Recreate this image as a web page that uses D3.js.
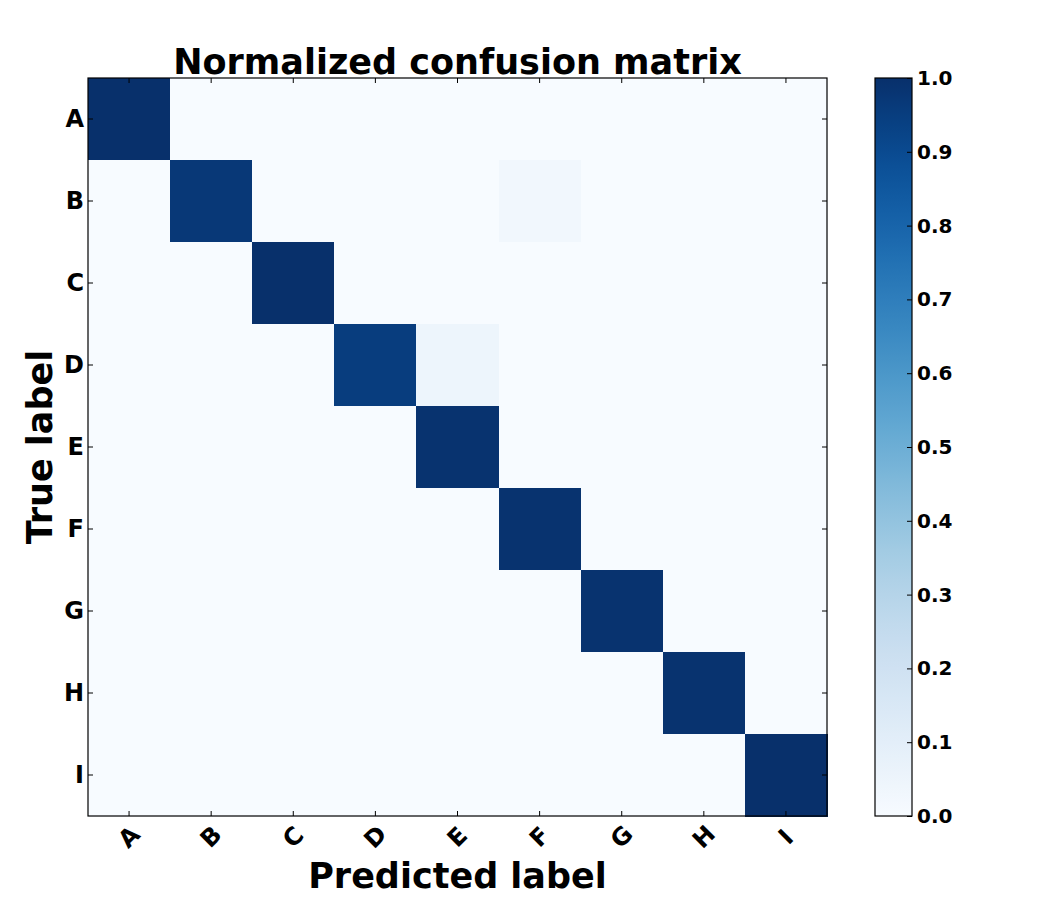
<!DOCTYPE html>
<html>
<head>
<meta charset="utf-8">
<script src="https://cdn.jsdelivr.net/npm/d3@7"></script>
<style>
  html, body { margin: 0; padding: 0; background: #fff; }
  svg { display: block; font-family: "DejaVu Sans", sans-serif; }
</style>
</head>
<body>
<div id="chart"></div>
<script>
const LABELS = ["A", "B", "C", "D", "E", "F", "G", "H", "I"];
// rows = true label, cols = predicted label
const MATRIX = [
  [1.00, 0, 0, 0, 0, 0, 0, 0, 0],
  [0, 0.97, 0, 0, 0, 0.03, 0, 0, 0],
  [0, 0, 1.00, 0, 0, 0, 0, 0, 0],
  [0, 0, 0, 0.95, 0.05, 0, 0, 0, 0],
  [0, 0, 0, 0, 0.99, 0, 0, 0, 0],
  [0, 0, 0, 0, 0, 0.99, 0, 0, 0],
  [0, 0, 0, 0, 0, 0, 0.99, 0, 0],
  [0, 0, 0, 0, 0, 0, 0, 0.99, 0],
  [0, 0, 0, 0, 0, 0, 0, 0, 1.00],
];
const CBAR_TICKS = [0, 0.1, 0.2, 0.3, 0.4, 0.5, 0.6, 0.7, 0.8, 0.9, 1.0];

const W = 1042, H = 897;
const plot = { left: 88, top: 78, right: 827, bottom: 816 };
const cbar = { left: 875, right: 912 };
const TICK = 5;

const svg = d3.select("#chart").append("svg")
  .attr("width", W).attr("height", H)
  .attr("viewBox", [0, 0, W, H]);

const x = d3.scaleBand().domain(LABELS).range([plot.left, plot.right]);
const y = d3.scaleBand().domain(LABELS).range([plot.top, plot.bottom]);
const color = d3.scaleSequential(d3.interpolateBlues).domain([0, 1]);

// cells
const cells = [];
MATRIX.forEach((row, i) => row.forEach((v, j) => cells.push({ r: LABELS[i], c: LABELS[j], v })));

svg.append("g").selectAll("rect")
  .data(cells)
  .join("rect")
  .attr("x", d => x(d.c))
  .attr("y", d => y(d.r))
  .attr("width", x.bandwidth() + 0.5)
  .attr("height", y.bandwidth() + 0.5)
  .attr("fill", d => color(d.v))
  .attr("shape-rendering", "crispEdges");

// ticks (inward, all four sides)
const ticks = svg.append("g").attr("stroke", "#000").attr("stroke-width", 1);
LABELS.forEach(l => {
  const cx = x(l) + x.bandwidth() / 2, cy = y(l) + y.bandwidth() / 2;
  ticks.append("line").attr("x1", cx).attr("x2", cx).attr("y1", plot.bottom).attr("y2", plot.bottom - TICK);
  ticks.append("line").attr("x1", cx).attr("x2", cx).attr("y1", plot.top).attr("y2", plot.top + TICK);
  ticks.append("line").attr("y1", cy).attr("y2", cy).attr("x1", plot.left).attr("x2", plot.left + TICK);
  ticks.append("line").attr("y1", cy).attr("y2", cy).attr("x1", plot.right).attr("x2", plot.right - TICK);
});

svg.append("rect")
  .attr("x", plot.left).attr("y", plot.top)
  .attr("width", plot.right - plot.left).attr("height", plot.bottom - plot.top)
  .attr("fill", "none").attr("stroke", "#000").attr("stroke-width", 1.2);

// tick labels
svg.append("g").selectAll("text")
  .data(LABELS)
  .join("text")
  .attr("transform", d => `translate(${x(d) + x.bandwidth() / 2},${plot.bottom + 21}) rotate(-45)`)
  .attr("text-anchor", "middle")
  .attr("dominant-baseline", "central")
  .attr("font-size", 24).attr("font-weight", "bold")
  .text(d => d);

svg.append("g").selectAll("text")
  .data(LABELS)
  .join("text")
  .attr("x", plot.left - 4)
  .attr("y", d => y(d) + y.bandwidth() / 2)
  .attr("text-anchor", "end")
  .attr("dominant-baseline", "central")
  .attr("font-size", 24).attr("font-weight", "bold")
  .text(d => d);

// titles
svg.append("text")
  .attr("x", (plot.left + plot.right) / 2).attr("y", 74)
  .attr("text-anchor", "middle")
  .attr("font-size", 35).attr("font-weight", "bold")
  .text("Normalized confusion matrix");

svg.append("text")
  .attr("x", (plot.left + plot.right) / 2).attr("y", 888)
  .attr("text-anchor", "middle")
  .attr("font-size", 35).attr("font-weight", "bold")
  .text("Predicted label");

svg.append("text")
  .attr("transform", `translate(52,${(plot.top + plot.bottom) / 2}) rotate(-90)`)
  .attr("text-anchor", "middle")
  .attr("font-size", 35).attr("font-weight", "bold")
  .text("True label");

// colorbar
const cy = d3.scaleLinear().domain([0, 1]).range([plot.bottom, plot.top]);
const grad = svg.append("defs").append("linearGradient")
  .attr("id", "cbar").attr("x1", 0).attr("x2", 0).attr("y1", 1).attr("y2", 0);
grad.selectAll("stop")
  .data(d3.range(0, 1.0001, 0.02))
  .join("stop")
  .attr("offset", d => d)
  .attr("stop-color", d => color(d));

svg.append("rect")
  .attr("x", cbar.left).attr("y", plot.top)
  .attr("width", cbar.right - cbar.left).attr("height", plot.bottom - plot.top)
  .attr("fill", "url(#cbar)")
  .attr("stroke", "#000").attr("stroke-width", 1.2);

const cAxis = svg.append("g")
  .attr("transform", `translate(${cbar.right},0)`)
  .call(d3.axisRight(cy).tickValues(CBAR_TICKS).tickFormat(d3.format(".1f"))
    .tickSizeInner(-TICK).tickSizeOuter(0).tickPadding(5));
cAxis.select(".domain").remove();
cAxis.selectAll("text")
  .attr("font-size", 20).attr("font-weight", "bold")
  .attr("font-family", "DejaVu Sans, sans-serif")
  .attr("fill", "#000");
</script>
</body>
</html>
